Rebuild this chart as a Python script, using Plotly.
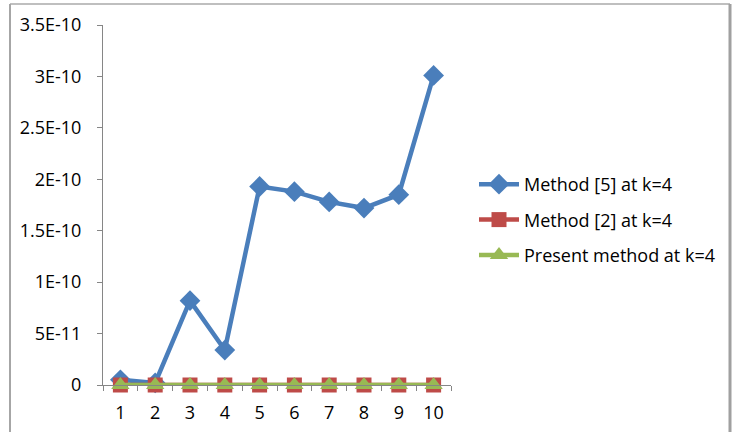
import plotly.graph_objects as go

categories = [1, 2, 3, 4, 5, 6, 7, 8, 9, 10]
method5 = [5e-12, 2e-12, 8.2e-11, 3.4e-11, 1.93e-10, 1.88e-10, 1.78e-10, 1.72e-10, 1.85e-10, 3.01e-10]
method2 = [0, 0, 0, 0, 0, 0, 0, 0, 0, 0]
present = [0, 0, 0, 0, 0, 0, 0, 0, 0, 0]
names = ["Method [5] at k=4", "Method [2] at k=4", "Present method at k=4"]
ytick_vals = [0, 5e-11, 1e-10, 1.5e-10, 2e-10, 2.5e-10, 3e-10, 3.5e-10]
ytick_text = ["0", "5E-11", "1E-10", "1.5E-10", "2E-10", "2.5E-10", "3E-10", "3.5E-10"]

FONT = "Open Sans"
FS = 18
fig = go.Figure()
fig.add_trace(go.Scatter(x=categories, y=method5, name=names[0], mode="lines+markers",
                         legendgroup="a", cliponaxis=False,
                         line=dict(color="#4A7EBB", width=4.5),
                         marker=dict(symbol="diamond", size=16, color="#4A7EBB")))
fig.add_trace(go.Scatter(x=categories, y=method2, name=names[1], mode="lines+markers",
                         legendgroup="b", cliponaxis=False,
                         line=dict(color="#BE4B48", width=4.5),
                         marker=dict(symbol="square", size=15, color="#BE4B48")))
fig.add_trace(go.Scatter(x=categories, y=present, name=names[2], mode="lines+markers",
                         legendgroup="c", cliponaxis=False,
                         line=dict(color="#98B954", width=4.5),
                         marker=dict(symbol="triangle-up", size=16, color="#98B954")))

L, R, T, B = 103, 451, 25, 385
W, H = 736, 432
pw, ph = R - L, B - T
fig.update_layout(
    width=W, height=H,
    margin=dict(l=L, r=W - R, t=T, b=H - B, autoexpand=False),
    paper_bgcolor="white", plot_bgcolor="white",
    font=dict(family=FONT, size=FS, color="black"),
    showlegend=True,
    legend=dict(x=(474 - L) / pw, y=(B - 166) / ph, xanchor="left", yanchor="top",
                font=dict(size=FS), tracegroupgap=9, itemwidth=40,
                bgcolor="rgba(0,0,0,0)"),
    xaxis=dict(range=[0.5, 10.5], tickmode="array", tickvals=categories,
               ticktext=[str(c) for c in categories], ticks="", showgrid=False,
               zeroline=False, showline=True, linecolor="#868686", linewidth=1,
               ticklabelstandoff=11, automargin=False,
               minor=dict(ticks="outside", tick0=0.5, dtick=1, ticklen=5,
                          tickcolor="#868686", showgrid=False),
               tickfont=dict(size=FS)),
    yaxis=dict(range=[0, 3.5e-10], tickmode="array", tickvals=ytick_vals,
               ticktext=ytick_text, ticks="outside", ticklen=5, tickcolor="#868686",
               ticklabelstandoff=12, automargin=False,
               showgrid=False, zeroline=False, showline=True, linecolor="#868686",
               linewidth=1, tickfont=dict(size=FS)),
    shapes=[
        dict(type="line", xref="paper", yref="paper", x0=(10 - L) / pw, x1=(730 - L) / pw,
             y0=(B - 4) / ph, y1=(B - 4) / ph, line=dict(color="#BFBFBF", width=2)),
        dict(type="line", xref="paper", yref="paper", x0=(10 - L) / pw, x1=(10 - L) / pw,
             y0=(B - 4) / ph, y1=(B - 440) / ph, line=dict(color="#A6A6A6", width=2)),
        dict(type="line", xref="paper", yref="paper", x0=(730 - L) / pw, x1=(730 - L) / pw,
             y0=(B - 4) / ph, y1=(B - 440) / ph, line=dict(color="#A0A0A0", width=3)),
    ],
)
fig.write_html("out.html")
